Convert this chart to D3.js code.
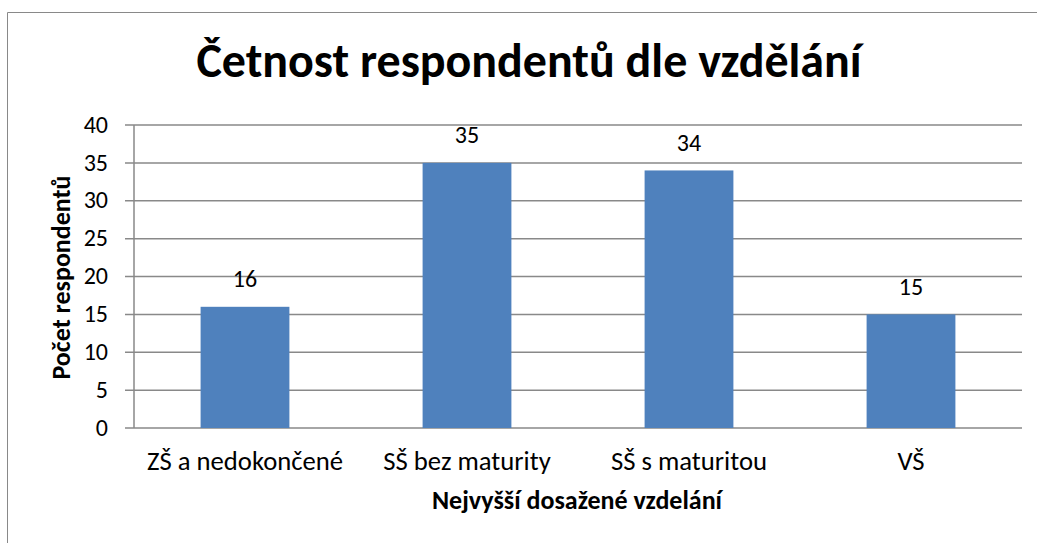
<!DOCTYPE html>
<html>
<head>
<meta charset="utf-8">
<script src="https://cdn.jsdelivr.net/npm/d3@7"></script>
<style>
  body { margin: 0; background: #fff; }
  svg { display: block; font-family: Carlito, Calibri, Lato, sans-serif; }
</style>
</head>
<body>
<svg id="chart" width="1037" height="543"></svg>
<script>
// -----------------------------
// Data
// -----------------------------
const categories = ["ZŠ a nedokončené", "SŠ bez maturity", "SŠ s maturitou", "VŠ"];
const counts = [16, 35, 34, 15];
const yTicks = [0, 5, 10, 15, 20, 25, 30, 35, 40];

const chartTitle = "Četnost respondentů dle vzdělání";
const xTitle = "Nejvyšší dosažené vzdelání";
const yTitle = "Počet respondentů";

// -----------------------------
// Layout
// -----------------------------
const svg = d3.select("#chart");
const plot = { left: 134, right: 1022, top: 125, bottom: 428 };
const gridColor = "#898989";

const x = d3
  .scaleBand()
  .domain(categories)
  .range([plot.left, plot.right])
  .paddingInner(0.6)
  .paddingOuter(0.3);

const y = d3.scaleLinear().domain([0, 40]).range([plot.bottom, plot.top]);

// outer chart frame (cropped on the right/bottom)
svg
  .append("path")
  .attr("d", "M7.5,543 L7.5,12.5 L1037,12.5")
  .attr("fill", "none")
  .attr("stroke", gridColor)
  .attr("stroke-width", 1);

// title
svg
  .append("text")
  .attr("x", 529)
  .attr("y", 77)
  .attr("text-anchor", "middle")
  .style("font-size", "48px")
  .style("font-weight", "700")
  .style("fill", "#000")
  .text(chartTitle);

// gridlines + ticks
svg
  .append("g")
  .selectAll("line")
  .data(yTicks)
  .join("line")
  .attr("x1", plot.left - 9)
  .attr("x2", plot.right)
  .attr("y1", (d) => y(d))
  .attr("y2", (d) => y(d))
  .attr("stroke", gridColor)
  .attr("stroke-width", 1.5);

// y axis line
svg
  .append("line")
  .attr("x1", plot.left)
  .attr("x2", plot.left)
  .attr("y1", plot.top)
  .attr("y2", plot.bottom)
  .attr("stroke", gridColor)
  .attr("stroke-width", 1.5);

// y tick labels
svg
  .append("g")
  .selectAll("text")
  .data(yTicks)
  .join("text")
  .attr("x", 108)
  .attr("y", (d) => y(d))
  .attr("dy", "0.32em")
  .attr("text-anchor", "end")
  .style("font-size", "24px")
  .style("fill", "#000")
  .text((d) => d);

// bars
svg
  .append("g")
  .selectAll("rect")
  .data(counts)
  .join("rect")
  .attr("x", (d, i) => x(categories[i]))
  .attr("y", (d) => y(d))
  .attr("width", x.bandwidth())
  .attr("height", (d) => y(0) - y(d))
  .attr("fill", "#4F81BD");

// value labels
svg
  .append("g")
  .selectAll("text")
  .data(counts)
  .join("text")
  .attr("x", (d, i) => x(categories[i]) + x.bandwidth() / 2)
  .attr("y", (d) => y(d) - 19.5)
  .attr("text-anchor", "middle")
  .style("font-size", "24px")
  .style("fill", "#000")
  .text((d) => d);

// category labels
svg
  .append("g")
  .selectAll("text")
  .data(categories)
  .join("text")
  .attr("x", (d) => x(d) + x.bandwidth() / 2)
  .attr("y", 470)
  .attr("text-anchor", "middle")
  .style("font-size", "26.7px")
  .style("fill", "#000")
  .text((d) => d);

// axis titles
svg
  .append("text")
  .attr("x", 577)
  .attr("y", 509)
  .attr("text-anchor", "middle")
  .style("font-size", "26px")
  .style("font-weight", "700")
  .style("fill", "#000")
  .text(xTitle);

svg
  .append("text")
  .attr("transform", `translate(70,${(plot.top + plot.bottom) / 2 + 1}) rotate(-90)`)
  .attr("text-anchor", "middle")
  .style("font-size", "26px")
  .style("font-weight", "700")
  .style("fill", "#000")
  .text(yTitle);
</script>
</body>
</html>
